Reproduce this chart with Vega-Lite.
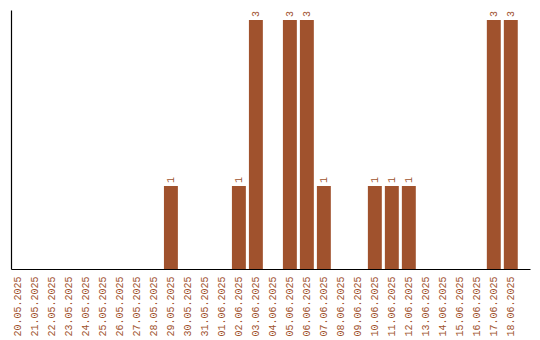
{
  "$schema": "https://vega.github.io/schema/vega-lite/v6.json",
  "autosize": "none",
  "width": 519,
  "height": 259,
  "padding": {"left": 11, "top": 10, "right": 10, "bottom": 71},
  "background": "white",
  "config": {"view": {"stroke": null}, "font": "Liberation Mono"},
  "data": {"values": [
    {"date": "20.05.2025", "count": 0},
    {"date": "21.05.2025", "count": 0},
    {"date": "22.05.2025", "count": 0},
    {"date": "23.05.2025", "count": 0},
    {"date": "24.05.2025", "count": 0},
    {"date": "25.05.2025", "count": 0},
    {"date": "26.05.2025", "count": 0},
    {"date": "27.05.2025", "count": 0},
    {"date": "28.05.2025", "count": 0},
    {"date": "29.05.2025", "count": 1},
    {"date": "30.05.2025", "count": 0},
    {"date": "31.05.2025", "count": 0},
    {"date": "01.06.2025", "count": 0},
    {"date": "02.06.2025", "count": 1},
    {"date": "03.06.2025", "count": 3},
    {"date": "04.06.2025", "count": 0},
    {"date": "05.06.2025", "count": 3},
    {"date": "06.06.2025", "count": 3},
    {"date": "07.06.2025", "count": 1},
    {"date": "08.06.2025", "count": 0},
    {"date": "09.06.2025", "count": 0},
    {"date": "10.06.2025", "count": 1},
    {"date": "11.06.2025", "count": 1},
    {"date": "12.06.2025", "count": 1},
    {"date": "13.06.2025", "count": 0},
    {"date": "14.06.2025", "count": 0},
    {"date": "15.06.2025", "count": 0},
    {"date": "16.06.2025", "count": 0},
    {"date": "17.06.2025", "count": 3},
    {"date": "18.06.2025", "count": 3}
  ]},
  "encoding": {
    "x": {
      "field": "date", "type": "ordinal", "sort": null,
      "scale": {"paddingInner": 0.18, "paddingOuter": 0.36, "align": 0},
      "axis": {
        "title": null, "labelAngle": 270, "labelAlign": "right", "labelBaseline": "middle",
        "labelColor": "#A0522D", "labelFont": "Liberation Mono", "labelFontSize": 10,
        "ticks": false, "labelPadding": 7, "domainColor": "black", "domainWidth": 1.2
      }
    },
    "y": {
      "field": "count", "type": "quantitative",
      "scale": {"domain": [0, 3.12], "nice": false},
      "axis": {"title": null, "labels": false, "ticks": false, "grid": false, "domainColor": "black", "domainWidth": 1.2}
    }
  },
  "layer": [
    {"mark": {"type": "bar", "color": "#A0522D"}},
    {
      "transform": [{"filter": "datum.count > 0"}],
      "mark": {"type": "text", "angle": 270, "align": "left", "baseline": "middle", "dx": 3, "color": "#A0522D", "font": "Liberation Mono", "fontSize": 10},
      "encoding": {"text": {"field": "count", "type": "quantitative"}}
    }
  ]
}
